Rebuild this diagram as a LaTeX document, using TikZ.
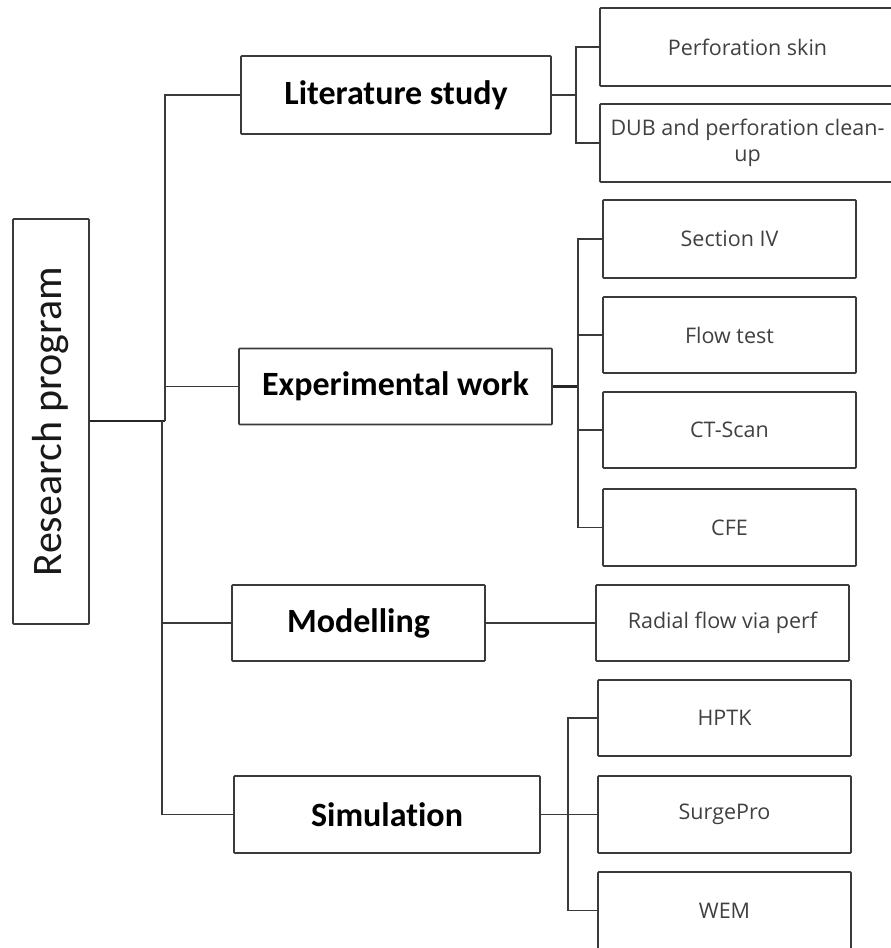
\documentclass[tikz,border=0pt]{standalone}
\usepackage{fontspec}
\setmainfont{Carlito}[Ligatures=NoCommon]
\newfontfamily\lightfont{Open Sans}
\definecolor{linec}{HTML}{3A3A3A}
\definecolor{txtc}{HTML}{404040}
\begin{document}
\begin{tikzpicture}[x=1pt,y=-1pt,
  box/.style={draw=linec,line width=1.6pt,rounded corners=0.8pt,inner sep=0pt,align=center},
  mainbox/.style={box,font=\fontsize{34}{39}\selectfont\bfseries,text=black},
  subbox/.style={box,font=\lightfont\fontsize{21.5}{26}\selectfont,text=txtc},
  conn/.style={draw=linec,line width=1.5pt},
  thick conn/.style={draw=black!85,line width=2.2pt}]
\useasboundingbox (0,0) rectangle (891,948);
\clip (0,0) rectangle (891,948);
% root
\node[box,minimum width=76,minimum height=405] (rp) at (51,421.5) {};
\node[rotate=90,font=\fontsize{42}{46}\selectfont,text=black!90] (rpt) at (rp.center) {Research program};
% level 1
\node[mainbox,minimum width=310,minimum height=78] (lit) at (396,95) {Literature study};
\node[mainbox,minimum width=313,minimum height=76] (exp) at (395.5,386.5) {Experimental work};
\node[mainbox,minimum width=253,minimum height=76] (mod) at (358.5,623) {Modelling};
\node[mainbox,minimum width=306,minimum height=77] (sim) at (387,814.5) {Simulation};
% level 2
\node[subbox,minimum width=295,minimum height=78] (ps) at (747.5,47) {Perforation skin};
\node[subbox,minimum width=295,minimum height=78] (dub) at (747.5,143) {DUB and perforation clean-\\up};
\node[subbox,minimum width=253,minimum height=78] (s4) at (729.5,239) {Section IV};
\node[subbox,minimum width=253,minimum height=76] (flow) at (729.5,335) {Flow test};
\node[subbox,minimum width=253,minimum height=76] (ct) at (729.5,430) {CT-Scan};
\node[subbox,minimum width=253,minimum height=77] (cfe) at (729.5,527.5) {CFE};
\node[subbox,minimum width=253,minimum height=76] (rad) at (722.5,623) {Radial flow via perf};
\node[subbox,minimum width=253,minimum height=76] (hptk) at (724.5,718) {HPTK};
\node[subbox,minimum width=253,minimum height=77] (surge) at (724.5,814.5) {SurgePro};
\node[subbox,minimum width=253,minimum height=77] (wem) at (724.5,910.5) {WEM};
% junctions
\coordinate (t0) at (165,421);
\coordinate (t1) at (162,421);
\coordinate (j1) at (576,95);
\coordinate (j2) at (578,386.5);
\coordinate (j4) at (568,814.5);
% trunk
\draw[thick conn] (rp.east |- t0) -- (t0);
\draw[conn] (lit.west) -| (t0);
\draw[conn] (exp.west) -- (exp.west -| t0);
\draw[thick conn] (t1) -- (t1 |- mod.west);
\draw[conn] (mod.west) -| (t1) ;
\draw[conn] (sim.west) -| (t1);
% literature
\draw[conn] (lit.east) -- (j1);
\draw[conn] (ps.west) -| (j1) |- (dub.west);
% experimental
\draw[thick conn] (exp.east) -- (j2);
\draw[conn] (s4.west) -| (j2) |- (cfe.west);
\draw[conn] (j2 |- flow.west) -- (flow.west);
\draw[conn] (j2 |- ct.west) -- (ct.west);
% modelling
\draw[conn] (mod.east) -- (rad.west);
% simulation
\draw[conn] (sim.east) -- (j4);
\draw[conn] (hptk.west) -| (j4) |- (wem.west);
\draw[conn] (j4 |- surge.west) -- (surge.west);
\end{tikzpicture}
\end{document}
